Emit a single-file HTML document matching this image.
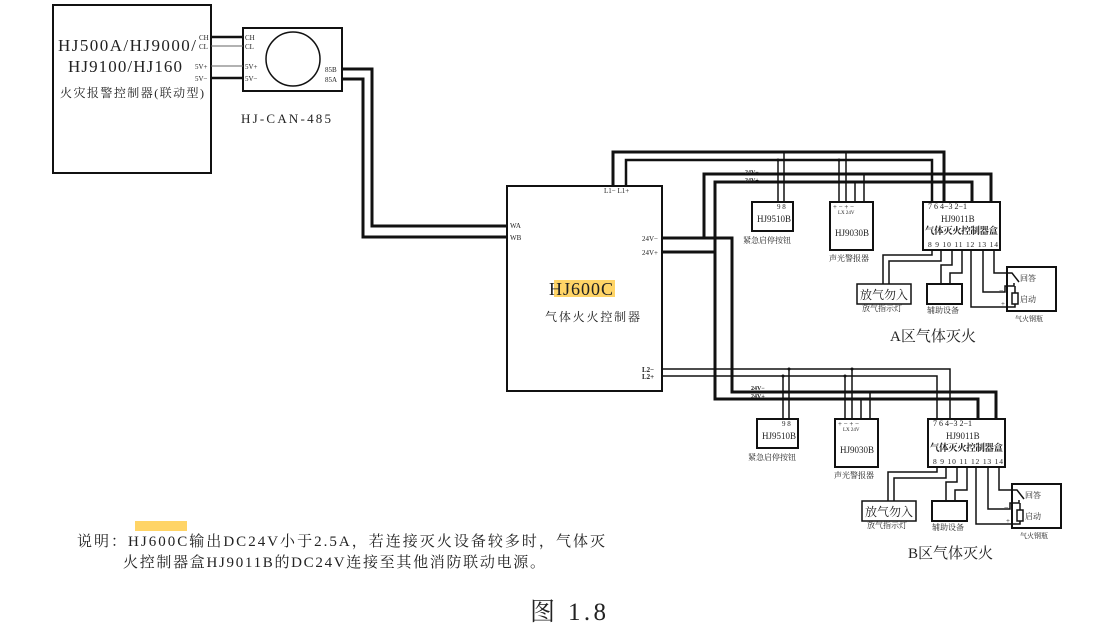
<!DOCTYPE html>
<html><head><meta charset="utf-8">
<style>
html,body{margin:0;padding:0;background:#fff;}
svg{display:block;}
text{font-family:"Liberation Serif","Noto Serif CJK SC",serif;fill:#222;}
</style></head>
<body>
<svg width="1120" height="630" viewBox="0 0 1120 630" xmlns="http://www.w3.org/2000/svg">
<g fill="none" stroke="#111">
  <rect x="53" y="5" width="158" height="168" stroke-width="2"/>
  <rect x="243" y="28" width="99" height="63" stroke-width="2"/>
  <circle cx="293" cy="59" r="27" stroke-width="1.5"/>
  <line x1="211" y1="37" x2="243" y2="37" stroke-width="2.5"/>
  <line x1="211" y1="46" x2="243" y2="46" stroke-width="1" stroke="#666"/>
  <line x1="211" y1="66" x2="243" y2="66" stroke-width="1" stroke="#666"/>
  <line x1="211" y1="78" x2="243" y2="78" stroke-width="2.5"/>
  <polyline points="342,69 372,69 372,226 508,226" stroke-width="3"/>
  <polyline points="342,79 363,79 363,237 508,237" stroke-width="3"/>
  <rect x="507" y="186" width="155" height="205" stroke-width="2"/>
  <polyline points="613,186 613,152 944,152 944,202" stroke-width="3"/>
  <polyline points="626,186 626,160 932,160 932,202" stroke-width="2.5"/>
  <polyline points="662,238 732,238 732,392 996,392 996,419" stroke-width="3"/>
  <polyline points="704,238 704,174 991,174 991,202" stroke-width="3"/>
  <polyline points="662,252 715,252 715,399 978,399 978,419" stroke-width="3"/>
  <polyline points="715,252 715,182 972,182 972,202" stroke-width="3"/>
  <polyline points="662,369 950,369 950,419" stroke-width="1.5"/>
  <polyline points="662,376 937,376 937,419" stroke-width="1.5"/>
  <line x1="778" y1="160" x2="778" y2="202" stroke-width="1.5"/>
  <line x1="784" y1="152" x2="784" y2="202" stroke-width="1.5"/>
  <line x1="839" y1="160" x2="839" y2="202" stroke-width="1.5"/>
  <line x1="846" y1="152" x2="846" y2="202" stroke-width="1.5"/>
  <line x1="855" y1="182" x2="855" y2="202" stroke-width="1.5"/>
  <line x1="864" y1="174" x2="864" y2="202" stroke-width="1.5"/>
  <line x1="783" y1="376" x2="783" y2="419" stroke-width="1.5"/>
  <line x1="789" y1="369" x2="789" y2="419" stroke-width="1.5"/>
  <line x1="845" y1="376" x2="845" y2="419" stroke-width="1.5"/>
  <line x1="852" y1="369" x2="852" y2="419" stroke-width="1.5"/>
  <line x1="861" y1="399" x2="861" y2="419" stroke-width="1.5"/>
  <line x1="870" y1="392" x2="870" y2="419" stroke-width="1.5"/>
</g>
<g fill="#111">
  <circle cx="784" cy="152" r="1.5"/><circle cx="846" cy="152" r="1.5"/><circle cx="778" cy="160" r="1.5"/><circle cx="839" cy="160" r="1.5"/>
  <circle cx="864" cy="174" r="1.5"/><circle cx="855" cy="182" r="1.5"/>
  <circle cx="789" cy="369" r="1.5"/><circle cx="852" cy="369" r="1.5"/><circle cx="783" cy="376" r="1.5"/><circle cx="845" cy="376" r="1.5"/>
  <circle cx="870" cy="392" r="1.5"/><circle cx="861" cy="399" r="1.5"/>
</g>

<g id="grpA">
 <g fill="none" stroke="#111">
  <rect x="752" y="202" width="41" height="29" stroke-width="2"/>
  <rect x="830" y="202" width="43" height="48" stroke-width="2"/>
  <rect x="923" y="202" width="77" height="48" stroke-width="2"/>
  <rect x="857" y="284" width="54" height="20" stroke-width="1.5"/>
  <rect x="927" y="284" width="35" height="20" stroke-width="2"/>
  <rect x="1007" y="267" width="49" height="44" stroke-width="2"/>
  <polyline points="932,250 932,255 883,255 883,284" stroke-width="1.5"/>
  <polyline points="941,250 941,261 889,261 889,284" stroke-width="1.5"/>
  <polyline points="952,250 952,265 941,265 941,284" stroke-width="1.5"/>
  <polyline points="962,250 962,273 950,273 950,284" stroke-width="1.5"/>
  <polyline points="971,250 971,307 1015,307 1015,304" stroke-width="1.5"/>
  <polyline points="983,250 983,292 1005,292 1005,286 1014,286 1014,283" stroke-width="1.5"/>
  <polyline points="994,250 994,273 1012,273 1019,282" stroke-width="1.5"/>
  <rect x="1012" y="293" width="6" height="11" stroke-width="1.5"/>
  <line x1="1015" y1="286" x2="1015" y2="293" stroke-width="1.5"/>
 </g>
 <g font-size="7">
  <text x="777" y="209">9 8</text>
  <text x="757" y="222" font-size="9">HJ9510B</text>
  <text x="833" y="209">+ −  + −</text>
  <text x="838" y="214" font-size="5">LX   24V</text>
  <text x="835" y="236" font-size="9">HJ9030B</text>
  <text x="928" y="209" font-size="8">7  6    4−3 2−1</text>
  <text x="941" y="222" font-size="9">HJ9011B</text>
  <text x="925" y="234" font-size="9.5" font-weight="bold" textLength="73">气体灭火控制器盒</text>
  <text x="928" y="247" font-size="7.5" textLength="70">8 9 10 11 12 13 14</text>
 </g>
 <text x="743" y="243" font-size="8">紧急启停按钮</text>
 <text x="829" y="261" font-size="8">声光警报器</text>
 <text x="860" y="299" font-size="12">放气勿入</text>
 <text x="862" y="311" font-size="8">放气指示灯</text>
 <text x="927" y="313" font-size="8">辅助设备</text>
 <text x="1020" y="281" font-size="8">回答</text>
 <text x="1020" y="302" font-size="8">启动</text>
 <text x="999" y="293" font-size="8">−</text>
 <text x="1001" y="306" font-size="7">+</text>
 <text x="1015" y="321" font-size="7">气火钢瓶</text>
</g>
<use href="#grpA" transform="translate(5,217)"/>

<text x="890" y="341" font-size="15">A区气体灭火</text>
<text x="908" y="558" font-size="15">B区气体灭火</text>

<text x="745" y="174" font-size="6" font-weight="bold">24V−</text>
<text x="745" y="182" font-size="6" font-weight="bold">24V+</text>
<text x="751" y="390" font-size="6" font-weight="bold">24V−</text>
<text x="751" y="398" font-size="6" font-weight="bold">24V+</text>

<text x="58" y="51" font-size="17" fill="#334" textLength="138">HJ500A/HJ9000/</text>
<text x="68" y="72" font-size="17" fill="#334" textLength="114">HJ9100/HJ160</text>
<text x="60" y="97" font-size="12" textLength="144">火灾报警控制器(联动型)</text>
<text x="199" y="40" font-size="7">CH</text>
<text x="199" y="49" font-size="7">CL</text>
<text x="195" y="69" font-size="7">5V+</text>
<text x="195" y="81" font-size="7">5V−</text>
<text x="245" y="40" font-size="7">CH</text>
<text x="245" y="49" font-size="7">CL</text>
<text x="245" y="69" font-size="7">5V+</text>
<text x="245" y="81" font-size="7">5V−</text>
<text x="325" y="72" font-size="7">85B</text>
<text x="325" y="82" font-size="7">85A</text>
<text x="241" y="123" font-size="13" textLength="90">HJ-CAN-485</text>

<rect x="554" y="280" width="61" height="17" fill="#ffd466"/>
<text x="549" y="295" font-size="18" textLength="64">HJ600C</text>
<text x="545" y="321" font-size="12" textLength="95">气体火火控制器</text>
<text x="604" y="193" font-size="7">L1− L1+</text>
<text x="510" y="228" font-size="7">WA</text>
<text x="510" y="240" font-size="7">WB</text>
<text x="642" y="241" font-size="7">24V−</text>
<text x="642" y="255" font-size="7">24V+</text>
<text x="642" y="372" font-size="7" font-weight="bold">L2−</text>
<text x="642" y="379" font-size="7" font-weight="bold">L2+</text>

<rect x="135" y="521" width="52" height="10" fill="#ffd466"/>
<text x="77" y="546" font-size="15" textLength="528">说明：HJ600C输出DC24V小于2.5A，若连接灭火设备较多时，气体灭</text>
<text x="123" y="567" font-size="15" textLength="422">火控制器盒HJ9011B的DC24V连接至其他消防联动电源。</text>
<text x="530" y="620" font-size="25" textLength="76">图 1.8</text>
</svg>
</body></html>
